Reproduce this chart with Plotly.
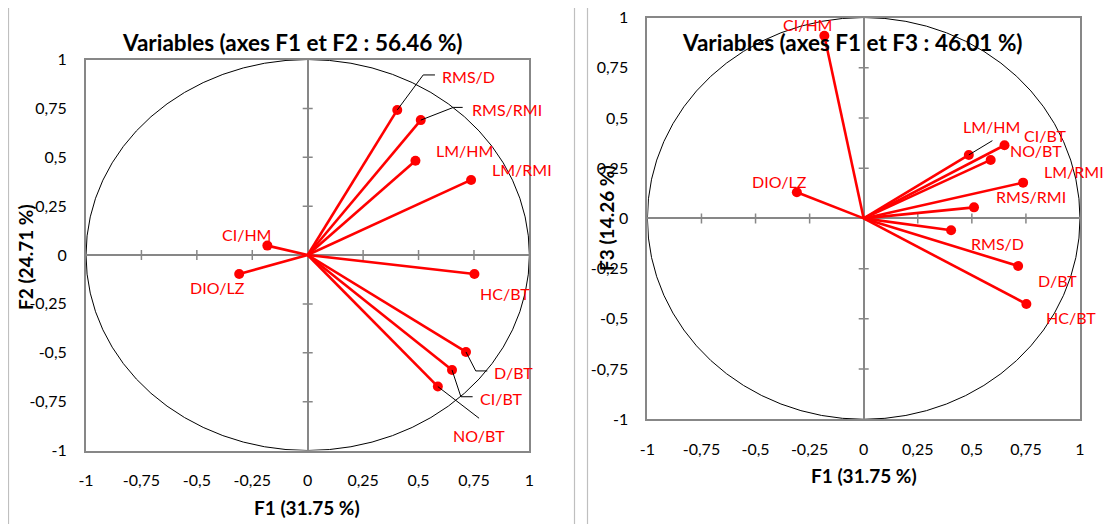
import plotly.graph_objects as go

# ---------------- data ----------------
variables = ["CI/HM", "DIO/LZ", "LM/HM", "LM/RMI", "RMS/RMI", "RMS/D",
             "HC/BT", "D/BT", "CI/BT", "NO/BT"]
f1 = [-0.182, -0.309, 0.486, 0.737, 0.510, 0.404, 0.752, 0.714, 0.651, 0.587]
f2 = [0.048, -0.097, 0.482, 0.384, 0.690, 0.742, -0.097, -0.496, -0.588, -0.673]
f3 = [0.909, 0.130, 0.316, 0.178, 0.055, -0.059, -0.426, -0.237, 0.364, 0.291]

tick_vals = [-1, -0.75, -0.5, -0.25, 0, 0.25, 0.5, 0.75, 1]
tick_text = ["-1", "-0,75", "-0,5", "-0,25", "0", "0,25", "0,5", "0,75", "1"]

title_12 = "Variables (axes F1 et F2 : 56.46 %)"
title_13 = "Variables (axes F1 et F3 : 46.01 %)"
xtitle = "F1 (31.75 %)"
ytitle_12 = "F2 (24.71 %)"
ytitle_13 = "F3 (14.26 %)"

# ---------------- styling / label placement (data units) ----------------
PAGE_OFF = 8                      # default body margin of the html page
W, H = 1113 - PAGE_OFF, 524 - PAGE_OFF
FONT = "Lato"
RED = "#FF0000"
AXGRAY = "#878787"
FRAMEGRAY = "#BFBFBF"

label_pos_12 = {
    "RMS/D": (0.724, 0.912), "RMS/RMI": (0.898, 0.742), "LM/HM": (0.709, 0.537),
    "LM/RMI": (0.965, 0.435), "CI/HM": (-0.275, 0.107), "DIO/LZ": (-0.406, -0.165),
    "HC/BT": (0.890, -0.196), "D/BT": (0.927, -0.602), "CI/BT": (0.875, -0.733),
    "NO/BT": (0.773, -0.921),
}
leaders_12 = {
    "RMS/D": [(0.521, 0.921), (0.574, 0.921)],
    "RMS/RMI": [(0.657, 0.755), (0.699, 0.755)],
    "D/BT": [(0.758, -0.593), (0.810, -0.593)],
    "CI/BT": [(0.691, -0.725), (0.744, -0.725)],
    "NO/BT": [(0.773, -0.835)],
}
label_pos_13 = {
    "CI/HM": (-0.259, 0.963), "LM/HM": (0.592, 0.456), "CI/BT": (0.841, 0.415),
    "NO/BT": (0.797, 0.340), "LM/RMI": (0.972, 0.232), "RMS/RMI": (0.772, 0.108),
    "DIO/LZ": (-0.390, 0.183), "RMS/D": (0.620, -0.124), "D/BT": (0.895, -0.307),
    "HC/BT": (0.957, -0.492),
}
leaders_13 = {
    "LM/HM": [(0.595, 0.387)],
}


def px(x):
    return (x - PAGE_OFF) / W


def py(y):
    return 1 - (y - PAGE_OFF) / H


fig = go.Figure()

panels = [
    dict(xa="x", ya="y", yv=f2, lab=label_pos_12, lead=leaders_12,
         xdom=[px(86), px(529.4)], ydom=[py(450.5), py(59.5)]),
    dict(xa="x2", ya="y2", yv=f3, lab=label_pos_13, lead=leaders_13,
         xdom=[px(647.4), px(1080)], ydom=[py(419.3), py(17.5)]),
]

shapes = []
annotations = []

for p in panels:
    xs, ys = [], []
    for xv, yv in zip(f1, p["yv"]):
        xs += [0, xv, None]
        ys += [0, yv, None]
    fig.add_trace(go.Scatter(x=xs, y=ys, mode="lines", xaxis=p["xa"], yaxis=p["ya"],
                             line=dict(color=RED, width=2.6), hoverinfo="skip",
                             showlegend=False))
    fig.add_trace(go.Scatter(x=f1, y=p["yv"], mode="markers", xaxis=p["xa"], yaxis=p["ya"],
                             marker=dict(color=RED, size=10), text=variables,
                             showlegend=False))
    # unit circle
    shapes.append(dict(type="circle", xref=p["xa"], yref=p["ya"], x0=-1, y0=-1, x1=1, y1=1,
                       line=dict(color="black", width=1), layer="below"))
    # crossing tick marks on zero axes
    for v in tick_vals:
        if v in (-1, 0, 1):
            continue
        shapes.append(dict(type="line", xref=p["xa"], yref=p["ya"], x0=v, x1=v,
                           ysizemode="pixel", yanchor=0, y0=-5, y1=5,
                           line=dict(color=AXGRAY, width=1.5), layer="below"))
        shapes.append(dict(type="line", xref=p["xa"], yref=p["ya"], y0=v, y1=v,
                           xsizemode="pixel", xanchor=0, x0=-5, x1=5,
                           line=dict(color=AXGRAY, width=1.5), layer="below"))
    # leader lines
    for name, pts in p["lead"].items():
        i = variables.index(name)
        path_pts = [(f1[i], p["yv"][i])] + pts
        for (a, b), (c, d) in zip(path_pts[:-1], path_pts[1:]):
            shapes.append(dict(type="line", xref=p["xa"], yref=p["ya"],
                               x0=a, y0=b, x1=c, y1=d,
                               line=dict(color="black", width=1)))
    # labels
    for name, (lx, ly) in p["lab"].items():
        annotations.append(dict(x=lx, y=ly, xref=p["xa"], yref=p["ya"], text=name,
                                showarrow=False, font=dict(family=FONT, size=16, color=RED),
                                xanchor="center", yanchor="middle"))

# outer frames
shapes.append(dict(type="rect", xref="paper", yref="paper", x0=px(8.5), x1=px(574.5),
                   y0=py(540), y1=py(5.5), line=dict(color=FRAMEGRAY, width=1.2), layer="below"))
shapes.append(dict(type="rect", xref="paper", yref="paper", x0=px(587.5), x1=px(1130),
                   y0=py(540), y1=py(5.5), line=dict(color=FRAMEGRAY, width=1.2), layer="below"))

# titles
for txt, x, y, size, ang in [
    (title_12, 292, 42, 22.5, 0), (title_13, 853, 42, 22.5, 0),
    (xtitle, 307, 507, 19, 0), (xtitle, 864, 475, 19, 0),
    (ytitle_12, 26, 257, 19, -90), (ytitle_13, 606, 218, 19, -90),
]:
    annotations.append(dict(x=px(x), y=py(y), xref="paper", yref="paper",
                            text="<b>" + txt + "</b>", showarrow=False, textangle=ang,
                            font=dict(family=FONT, size=size, color="black"),
                            xanchor="center", yanchor="middle"))

axis_common = dict(range=[-1, 1], showgrid=False, zeroline=True, zerolinecolor=AXGRAY,
                   zerolinewidth=1.5, showline=True, linecolor=AXGRAY, linewidth=2,
                   mirror=True, tickmode="array", tickvals=tick_vals, ticktext=tick_text,
                   ticks="", ticklabelstandoff=14, fixedrange=True, automargin=False,
                   ticklabeloverflow="allow",
                   tickfont=dict(family=FONT, size=16, color="black"))

fig.update_layout(
    width=W, height=H, margin=dict(l=0, r=0, t=0, b=0, autoexpand=False),
    paper_bgcolor="white", plot_bgcolor="white", showlegend=False,
    xaxis=dict(domain=panels[0]["xdom"], anchor="y", **axis_common),
    yaxis=dict(domain=panels[0]["ydom"], anchor="x", **axis_common),
    xaxis2=dict(domain=panels[1]["xdom"], anchor="y2", **axis_common),
    yaxis2=dict(domain=panels[1]["ydom"], anchor="x2", **axis_common),
    shapes=shapes, annotations=annotations,
)

fig.write_html("out.html")
